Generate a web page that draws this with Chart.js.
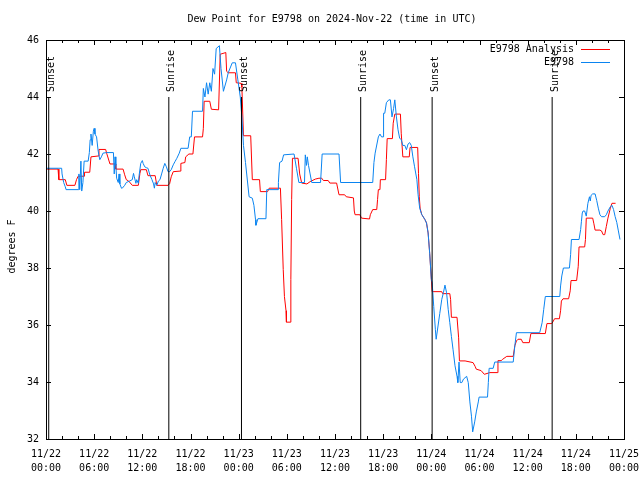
<!DOCTYPE html>
<html>
<head>
<meta charset="utf-8">
<title>Dew Point for E9798</title>
<script src="https://cdn.jsdelivr.net/npm/chart.js@4.4.1/dist/chart.umd.min.js"></script>
<style>
  html, body { margin: 0; padding: 0; background: #fff; }
  #wrap { width: 640px; height: 480px; }
</style>
</head>
<body>
<div id="wrap"><canvas id="dew" width="640" height="480"></canvas></div>
<script>
// Dew point for station E9798, 2024-11-22 00:00 UTC to 2024-11-25 00:00 UTC
// x = hours since 11/22 00:00 UTC, y = degrees F

const chartTitle = 'Dew Point for E9798 on 2024-Nov-22 (time in UTC)';
const yTitle = 'degrees F';

// analysis (red)
const analysisPoints = [
  [0, 41.47], [1.5, 41.47], [1.6, 41.1], [2.4, 41.1], [2.6, 40.9], [3.6, 40.9], [3.8, 41.1], [4.0, 41.22],
  [4.75, 41.22], [4.8, 41.36], [5.45, 41.36], [5.6, 41.9], [6.5, 41.93], [6.6, 42.16], [7.43, 42.16], [7.55, 42.03],
  [7.97, 41.65], [8.6, 41.65], [8.7, 41.47], [9.6, 41.47], [9.8, 41.27], [10.0, 41.1], [10.3, 41.05], [10.75, 40.9],
  [11.5, 40.9], [11.7, 41.32], [11.8, 41.45], [12.5, 41.45], [12.7, 41.24], [13.6, 41.24], [13.8, 40.9], [15.2, 40.9],
  [15.4, 40.96], [15.6, 41.2], [15.85, 41.38], [16.7, 41.4], [16.8, 41.67], [17.3, 41.7], [17.4, 41.9], [17.8, 42.0],
  [18.3, 42.0], [18.5, 42.6], [19.5, 42.6], [19.6, 42.9], [19.7, 43.85], [20.4, 43.85], [20.6, 43.57], [21.5, 43.55],
  [21.7, 45.5], [22.4, 45.56], [22.5, 44.9], [22.7, 44.85], [23.6, 44.85], [23.7, 44.5], [24.3, 44.48], [24.4, 44.35],
  [24.6, 42.64], [25.5, 42.64], [25.7, 41.1], [26.6, 41.1], [26.7, 40.68], [27.6, 40.68], [27.8, 40.8], [29.2, 40.8],
  [29.35, 39.7], [29.55, 37.95], [29.7, 37.0], [29.9, 36.5], [29.95, 36.1], [30.4, 36.1], [30.5, 37.6], [30.6, 40.4],
  [30.7, 41.85], [31.4, 41.85], [31.6, 41.3], [31.85, 40.98], [32.5, 40.95], [32.9, 41.03], [33.55, 41.12], [34.0, 41.15],
  [34.35, 41.15], [34.55, 41.07], [35.15, 41.07], [35.35, 40.98], [36.2, 40.98], [36.5, 40.57], [37.2, 40.57], [37.4, 40.5],
  [38.3, 40.46], [38.4, 40.0], [38.5, 39.87], [39.1, 39.87], [39.3, 39.75], [40.3, 39.72], [40.4, 39.87], [40.7, 40.05],
  [41.2, 40.05], [41.3, 40.4], [41.4, 40.75], [41.6, 40.75], [41.65, 41.1], [42.3, 41.1], [42.4, 41.8], [42.5, 42.54],
  [43.15, 42.54], [43.25, 43.08], [43.45, 43.4], [44.15, 43.4], [44.25, 42.73], [44.45, 41.9], [45.25, 41.9], [45.35, 42.23],
  [46.3, 42.23], [46.4, 41.32], [46.5, 40.5], [46.6, 40.1], [46.8, 39.88], [47.2, 39.7], [47.4, 39.58], [47.6, 39.23],
  [47.8, 38.5], [48.0, 37.6], [48.1, 37.17], [49.3, 37.17], [49.4, 37.1], [50.3, 37.1], [50.4, 36.9], [50.5, 36.27],
  [51.2, 36.27], [51.4, 35.55], [51.5, 34.74], [52.2, 34.74], [53.2, 34.68], [53.45, 34.55], [53.6, 34.45], [54.2, 34.4],
  [54.6, 34.27], [55.3, 34.33], [56.2, 34.33], [56.3, 34.75], [56.7, 34.75], [56.9, 34.8], [57.4, 34.9], [58.2, 34.9],
  [58.4, 35.27], [58.6, 35.44], [58.8, 35.5], [59.2, 35.5], [59.4, 35.38], [60.2, 35.38], [60.4, 35.7], [62.2, 35.7],
  [62.4, 36.05], [63.0, 36.05], [63.2, 36.14], [63.35, 36.22], [63.95, 36.22], [64.1, 36.5], [64.2, 36.84], [64.4, 36.92],
  [65.1, 36.92], [65.3, 37.2], [65.4, 37.56], [66.1, 37.56], [66.3, 38.06], [66.4, 38.74], [67.1, 38.74], [67.2, 39.0],
  [67.3, 39.75], [68.1, 39.75], [68.25, 39.55], [68.4, 39.33], [69.0, 39.33], [69.2, 39.3], [69.4, 39.17], [69.6, 39.17],
  [69.8, 39.46], [70.0, 39.75], [70.3, 40.1], [70.5, 40.27], [70.95, 40.27]
];

// station observations (blue)
const obsPoints = [
  [0, 41.5], [1.95, 41.5], [2.0, 41.3], [2.2, 41.0], [2.4, 40.85], [2.5, 40.75], [4.05, 40.75], [4.1, 41.3],
  [4.2, 40.75], [4.35, 41.75], [4.45, 40.7], [4.6, 41.0], [4.75, 41.75], [5.25, 41.75], [5.4, 42.05], [5.5, 42.5],
  [5.6, 42.7], [5.75, 42.3], [5.9, 42.8], [6.0, 42.9], [6.1, 42.7], [6.3, 42.6], [6.5, 42.1], [6.7, 41.8],
  [6.9, 41.9], [7.1, 42.03], [7.55, 42.05], [8.4, 42.05], [8.5, 41.3], [8.6, 41.9], [8.7, 41.6], [8.8, 41.15],
  [9.0, 41.0], [9.1, 41.3], [9.2, 40.95], [9.4, 40.8], [9.5, 40.8], [9.8, 40.9], [10.0, 41.0], [10.4, 41.05],
  [10.75, 41.1], [10.9, 41.32], [11.0, 41.2], [11.2, 40.97], [11.3, 41.1], [11.5, 40.97], [11.6, 41.25], [11.8, 41.67],
  [12.0, 41.77], [12.1, 41.67], [12.3, 41.55], [12.5, 41.52], [12.7, 41.5], [12.95, 41.26], [13.2, 41.1], [13.4, 40.95],
  [13.5, 40.8], [13.6, 41.0], [13.8, 40.9], [14.0, 41.05], [14.2, 41.1], [14.4, 41.3], [14.6, 41.5], [14.8, 41.67],
  [15.0, 41.55], [15.2, 41.38], [15.4, 41.38], [15.6, 41.45], [15.85, 41.62], [16.06, 41.73], [16.3, 41.85], [16.6, 42.03],
  [16.8, 42.2], [17.7, 42.2], [17.9, 42.6], [18.1, 42.6], [18.25, 43.5], [19.5, 43.5], [19.6, 44.3], [19.8, 44.0],
  [20.0, 44.5], [20.2, 44.1], [20.4, 44.5], [20.6, 44.2], [20.8, 45.0], [21.0, 44.8], [21.2, 45.7], [21.6, 45.8],
  [21.8, 45.0], [22.1, 44.2], [22.5, 44.6], [22.7, 44.85], [23.2, 45.2], [23.6, 45.2], [23.9, 44.6], [24.2, 44.0],
  [24.4, 43.3], [24.6, 42.3], [24.85, 41.7], [25.3, 40.5], [25.7, 40.45], [25.9, 40.2], [26.1, 39.7], [26.15, 39.5],
  [26.4, 39.73], [27.4, 39.73], [27.5, 40.75], [28.9, 40.75], [28.95, 41.0], [29.1, 41.7], [29.4, 41.75], [29.6, 41.97],
  [30.9, 42.0], [31.2, 41.5], [31.5, 41.0], [32.2, 41.0], [32.3, 41.97], [32.45, 41.6], [32.55, 41.9], [32.7, 41.6],
  [32.9, 41.3], [33.1, 41.0], [34.2, 41.0], [34.4, 42.0], [36.5, 42.0], [36.7, 41.0], [40.7, 41.0], [40.85, 41.7],
  [41.0, 42.03], [41.4, 42.6], [41.6, 42.7], [41.8, 42.6], [42.0, 42.6], [42.05, 43.43], [42.2, 43.43], [42.4, 43.8],
  [42.7, 43.9], [42.9, 43.9], [43.1, 43.3], [43.3, 43.6], [43.45, 43.9], [43.65, 43.3], [43.85, 42.85], [44.05, 42.56],
  [44.25, 42.5], [44.45, 42.3], [44.7, 42.3], [44.9, 42.15], [45.1, 42.35], [45.3, 42.4], [45.5, 42.3], [45.7, 41.9],
  [45.9, 41.57], [46.2, 41.1], [46.35, 40.57], [46.55, 40.1], [46.8, 39.88], [47.2, 39.7], [47.4, 39.58], [47.6, 39.23],
  [47.8, 38.5], [48.0, 37.6], [48.1, 37.5], [48.3, 36.65], [48.5, 35.85], [48.6, 35.5], [48.85, 36.0], [49.05, 36.4],
  [49.3, 36.9], [49.5, 37.13], [49.7, 37.4], [49.9, 37.13], [50.1, 36.55], [50.3, 36.08], [50.5, 35.6], [50.7, 35.15],
  [50.95, 34.57], [51.2, 34.2], [51.3, 33.98], [51.45, 34.7], [51.6, 33.98], [51.8, 33.98], [52.0, 34.1], [52.4, 34.2],
  [52.6, 33.98], [52.8, 33.3], [53.0, 32.8], [53.15, 32.25], [53.4, 32.6], [53.6, 32.95], [53.85, 33.3], [53.95, 33.47],
  [55.0, 33.47], [55.1, 33.98], [55.2, 34.48], [55.7, 34.48], [55.9, 34.7], [58.2, 34.7], [58.4, 35.27], [58.6, 35.73],
  [61.5, 35.73], [61.8, 36.08], [62.0, 36.55], [62.2, 37.0], [64.0, 37.0], [64.1, 37.37], [64.25, 37.72], [64.45, 38.0],
  [65.2, 38.0], [65.35, 38.47], [65.45, 39.0], [66.4, 39.0], [66.6, 39.35], [66.7, 39.64], [66.8, 39.93], [66.9, 40.0],
  [67.1, 40.0], [67.3, 39.82], [67.5, 40.27], [67.7, 40.5], [67.8, 40.35], [67.9, 40.55], [68.1, 40.6], [68.4, 40.6],
  [68.6, 40.37], [68.8, 40.1], [69.0, 39.87], [69.2, 39.8], [69.6, 39.8], [69.8, 39.87], [70.0, 40.0], [70.3, 40.15],
  [70.5, 40.2], [70.7, 40.05], [70.9, 39.8], [71.1, 39.6], [71.3, 39.3], [71.5, 39.0]
];

// sunrise / sunset markers
const sunHours = [0.34, 15.3, 24.35, 39.2, 48.1, 63.05];
const sunLabels = ['Sunset', 'Sunrise', 'Sunset', 'Sunrise', 'Sunset', 'Sunrise'];
const sunLineTop = 44;

// axes
const xMin = 0, xMax = 72, xMajor = 6, xMinor = 2;
const yMin = 32, yMax = 46, yStep = 2;
const startDay = 22;

const RED = '#ff0000';
const BLUE = '#0a84f0';
const FONT = "'DejaVu Sans Mono', monospace";

function pad2(n) { return (n < 10 ? '0' : '') + n; }

// gnuplot-ish frame, inward ticks, labels and key
const decor = {
    id: 'decor',
    afterDraw(chart) {
        const ctx = chart.ctx;
        const a = chart.chartArea;
        const xs = chart.scales.x, ys = chart.scales.y;
        ctx.save();
        ctx.strokeStyle = '#000';
        ctx.fillStyle = '#000';
        ctx.lineWidth = 1;

        const seg = (x1, y1, x2, y2) => {
            ctx.beginPath(); ctx.moveTo(x1, y1); ctx.lineTo(x2, y2); ctx.stroke();
        };

        ctx.strokeRect(a.left + 0.5, a.top + 0.5, a.right - a.left, a.bottom - a.top);

        for (let h = xMin; h <= xMax; h += xMinor) {
            const px = Math.round(xs.getPixelForValue(h)) + 0.5;
            const len = h % xMajor === 0 ? 5 : 3;
            seg(px, a.bottom, px, a.bottom - len);
            seg(px, a.top, px, a.top + len);
        }
        ys.ticks.forEach(t => {
            const py = Math.round(ys.getPixelForValue(t.value)) + 0.5;
            seg(a.left, py, a.left + 5, py);
            seg(a.right, py, a.right - 5, py);
        });

        ctx.font = '10px ' + FONT;

        // title
        ctx.textAlign = 'center';
        ctx.textBaseline = 'middle';
        ctx.fillText(chartTitle, (a.left + a.right) / 2 - 3, 19);

        // y title
        ctx.save();
        ctx.translate(12, (a.top + a.bottom) / 2 + 7);
        ctx.rotate(-Math.PI / 2);
        ctx.fillText(yTitle, 0, 0);
        ctx.restore();

        // sun labels
        sunHours.forEach((h, i) => {
            const px = xs.getPixelForValue(h);
            const py = ys.getPixelForValue(sunLineTop) - 5;
            ctx.save();
            ctx.translate(px + 3, py);
            ctx.rotate(-Math.PI / 2);
            ctx.textAlign = 'left';
            ctx.fillText(sunLabels[i], 0, 0);
            ctx.restore();
        });

        // key
        const keyText = a.right - 50, keyL = a.right - 43, keyR = a.right - 14;
        const rows = [['E9798 Analysis', RED], ['E9798', BLUE]];
        rows.forEach((r, i) => {
            const ty = a.top + 9.5 + i * 13;
            ctx.textAlign = 'right';
            ctx.fillStyle = '#000';
            ctx.fillText(r[0], keyText, ty);
            ctx.strokeStyle = r[1];
            seg(keyL, ty, keyR, ty);
        });
        ctx.restore();
    }
};

const toXY = pts => pts.map(p => ({ x: p[0], y: p[1] }));

const lineDefaults = { showLine: true, pointRadius: 0, borderWidth: 1, fill: false, tension: 0 };

const sunSets = sunHours.map(h => Object.assign({
    label: 'sun',
    data: [{ x: h, y: yMin }, { x: h, y: sunLineTop }],
    borderColor: '#000',
    order: 0
}, lineDefaults));

new Chart(document.getElementById('dew'), {
    type: 'scatter',
    data: {
        datasets: sunSets.concat([
            Object.assign({ label: 'E9798', data: toXY(obsPoints), borderColor: BLUE, order: 1 }, lineDefaults),
            Object.assign({ label: 'E9798 Analysis', data: toXY(analysisPoints), borderColor: RED, order: 2 }, lineDefaults)
        ])
    },
    options: {
        responsive: false,
        animation: false,
        devicePixelRatio: 1,
        events: [],
        layout: { padding: { top: 40, right: 16, left: 0, bottom: 0 } },
        plugins: {
            legend: { display: false },
            title: { display: false },
            tooltip: { enabled: false }
        },
        scales: {
            x: {
                type: 'linear',
                min: xMin,
                max: xMax,
                grid: { display: false, drawTicks: false },
                border: { display: false },
                afterFit: s => { s.height = 41; s.paddingLeft = 0; s.paddingRight = 0; },
                ticks: {
                    stepSize: xMajor,
                    autoSkip: false,
                    maxRotation: 0,
                    minRotation: 0,
                    padding: 9,
                    color: '#000',
                    font: { family: FONT, size: 10, lineHeight: 1.35 },
                    callback: v => {
                        const day = startDay + Math.floor(v / 24);
                        return ['11/' + day, pad2(v % 24) + ':00'];
                    }
                }
            },
            y: {
                min: yMin,
                max: yMax,
                grid: { display: false, drawTicks: false },
                border: { display: false },
                afterFit: s => { s.width = 46; s.paddingTop = 0; s.paddingBottom = 0; },
                ticks: {
                    stepSize: yStep,
                    padding: 7,
                    color: '#000',
                    font: { family: FONT, size: 10 }
                }
            }
        }
    },
    plugins: [decor]
});
</script>
</body>
</html>
